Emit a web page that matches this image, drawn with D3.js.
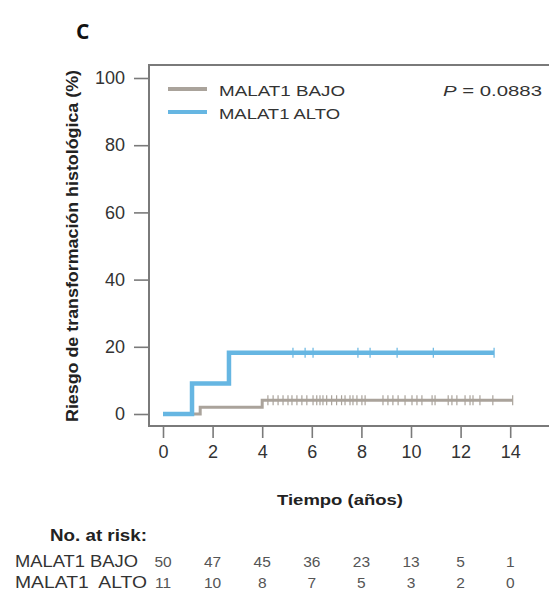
<!DOCTYPE html>
<html>
<head>
<meta charset="utf-8">
<script src="https://cdn.jsdelivr.net/npm/d3@7"></script>
<style>
  html, body { margin: 0; padding: 0; background: #fff; }
  svg { display: block; font-family: "Liberation Sans", Arial, sans-serif; }
</style>
</head>
<body>
<svg id="chart" width="549" height="592"></svg>
<script>
// Cumulative incidence of histological transformation by MALAT1 expression
const timeTicks = [0, 2, 4, 6, 8, 10, 12, 14];
const riskTicks = [0, 20, 40, 60, 80, 100];

// Step functions: event times (years) and cumulative risk (%)
const bajoTimes  = [0, 1.5, 4.0, 14.1];
const bajoValues = [0, 2.0, 4.1, 4.1];
const altoTimes  = [0, 1.17, 2.66, 13.35];
const altoValues = [0, 9.1, 18.2, 18.2];

// Censored observations (years)
const bajoCensored = [4.23, 4.44, 4.64, 4.84, 5.04, 5.2, 5.4, 5.6, 5.8, 6.05, 6.2, 6.33, 6.45,
  6.6, 6.8, 7.0, 7.2, 7.34, 7.54, 7.66, 7.82, 8.02, 8.15, 8.87, 9.07, 9.27, 9.48, 9.76,
  10.04, 10.24, 10.44, 10.85, 10.97, 11.5, 11.65, 11.85, 12.18, 12.38, 12.5, 12.78, 13.3, 14.1];
const altoCensored = [5.24, 5.73, 6.05, 7.86, 8.35, 9.44, 10.9, 13.35];

// Numbers at risk at each time tick
const groups = ["MALAT1 BAJO", "MALAT1  ALTO"];
const riskBajo = [50, 47, 45, 36, 23, 13, 5, 1];
const riskAlto = [11, 10, 8, 7, 5, 3, 2, 0];

const colBajo = "#aaa39b";
const colAlto = "#66b6e2";
const axisCol = "#7a7a7a";

const svg = d3.select("#chart");

const x = d3.scaleLinear().domain([0, 14]).range([163, 510.2]);
const y = d3.scaleLinear().domain([0, 100]).range([414, 78]);

// text helper: fixed rendered width
function fitText(sel, len) {
  return sel.attr("textLength", len).attr("lengthAdjust", "spacingAndGlyphs");
}

// panel letter
svg.append("text").attr("x", 76).attr("y", 39)
  .style("font-family", "'Open Sans', sans-serif").style("font-weight", "700")
  .style("font-size", "21px").attr("fill", "#111").text("C");

// frame (open to the right edge)
svg.append("path")
  .attr("d", `M560,65H149V426H560`)
  .attr("fill", "none").attr("stroke", axisCol).attr("stroke-width", 2);

// y axis
const yAxis = d3.axisLeft(y).tickValues(riskTicks).tickSize(15).tickPadding(9);
const gy = svg.append("g").attr("transform", "translate(149,0)").call(yAxis);
gy.select(".domain").remove();
gy.selectAll(".tick line").attr("stroke", axisCol).attr("stroke-width", 1.6);
gy.selectAll(".tick text").attr("fill", "#333").style("font-size", "18px")
  .style("font-family", "'Liberation Sans', Arial, sans-serif");

// x axis
const xAxis = d3.axisBottom(x).tickValues(timeTicks).tickSize(12).tickPadding(7);
const gx = svg.append("g").attr("transform", "translate(0,426)").call(xAxis);
gx.select(".domain").remove();
gx.selectAll(".tick line").attr("stroke", axisCol).attr("stroke-width", 1.6);
gx.selectAll(".tick text").attr("fill", "#333").style("font-size", "18px")
  .style("font-family", "'Liberation Sans', Arial, sans-serif");

// axis titles
fitText(svg.append("text")
  .attr("transform", "translate(78,246) rotate(-90)")
  .attr("text-anchor", "middle").attr("fill", "#222")
  .style("font-weight", "700").style("font-size", "16px")
  .text("Riesgo de transformación histológica (%)"), 352);

fitText(svg.append("text").attr("x", 340).attr("y", 505)
  .attr("text-anchor", "middle").attr("fill", "#222")
  .style("font-weight", "700").style("font-size", "15.5px")
  .text("Tiempo (años)"), 126);

// curves
const line = d3.line().x(d => x(d[0])).y(d => y(d[1])).curve(d3.curveStepAfter);

function drawCurve(times, values, censored, color, width) {
  const pts = times.map((t, i) => [t, values[i]]);
  svg.append("path").datum(pts).attr("d", line)
    .attr("fill", "none").attr("stroke", color).attr("stroke-width", width);
  const level = t => {
    let v = values[0];
    times.forEach((tt, i) => { if (t >= tt) v = values[i]; });
    return v;
  };
  svg.append("g").selectAll("line").data(censored).join("line")
    .attr("x1", d => x(d)).attr("x2", d => x(d))
    .attr("y1", d => y(level(d)) - 5).attr("y2", d => y(level(d)) + 5)
    .attr("stroke", color).attr("stroke-width", 1.2);
}

drawCurve(bajoTimes, bajoValues, bajoCensored, colBajo, 3);
drawCurve(altoTimes, altoValues, altoCensored, colAlto, 4.5);

// legend
const legend = [["MALAT1 BAJO", colBajo, 89, 126], ["MALAT1 ALTO", colAlto, 112, 121]];
legend.forEach(([label, color, ly, len]) => {
  svg.append("line").attr("x1", 168).attr("x2", 207).attr("y1", ly).attr("y2", ly)
    .attr("stroke", color).attr("stroke-width", 4);
  fitText(svg.append("text").attr("x", 219).attr("y", ly + 7).attr("fill", "#333")
    .style("font-size", "15.5px").text(label), len);
});

// p-value
const pText = svg.append("text").attr("x", 443).attr("y", 96)
  .attr("fill", "#333").style("font-size", "15.5px");
fitText(pText, 99);
pText.append("tspan").style("font-style", "italic").text("P");
pText.append("tspan").text(" = 0.0883");

// numbers at risk table
fitText(svg.append("text").attr("x", 50).attr("y", 541)
  .attr("fill", "#222")
  .style("font-weight", "700").style("font-size", "16.5px").text("No. at risk:"), 97);

[[groups[0], riskBajo, 567, 123], [groups[1], riskAlto, 588, 132]].forEach(([g, vals, ry, len]) => {
  fitText(svg.append("text").attr("x", 15).attr("y", ry).attr("fill", "#333")
    .style("font-size", "16.5px").attr("xml:space", "preserve")
    .style("white-space", "pre").text(g), len);
  svg.append("g").selectAll("text").data(vals).join("text")
    .attr("x", (d, i) => x(timeTicks[i])).attr("y", ry)
    .attr("text-anchor", "middle").attr("fill", "#555")
    .style("font-size", "15.5px").text(d => d);
});
</script>
</body>
</html>
